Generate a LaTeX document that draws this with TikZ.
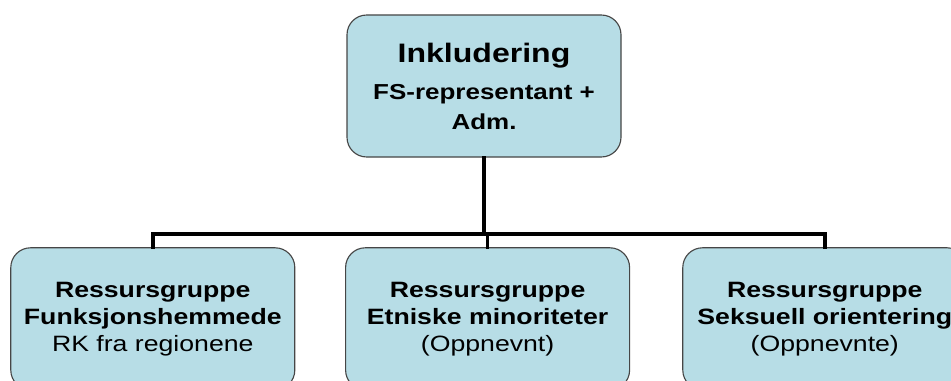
\documentclass[tikz,border=0pt]{standalone}
\usepackage{fontspec}
\setmainfont[FakeStretch=1.2]{Liberation Sans}
\usepackage{tikz}
\usetikzlibrary{positioning}
\definecolor{box-fill}{RGB}{183,221,230}
\definecolor{box-line}{RGB}{70,70,70}
\tikzset{%
    unit/.style={%
        rectangle,
        fill=box-fill,
        draw=box-line, line width=0.8pt,
        rounded corners=14pt,
        text=black,
        align=center,
        inner sep=0pt,
    },
    headunit/.style={%
        unit,
        minimum width=6.85cm,
        minimum height=3.55cm,
        font=\fontsize{15.4}{21.3}\selectfont\bfseries,
    },
    groupunit/.style={%
        unit,
        minimum width=7.1cm,
        minimum height=3.55cm,
        font=\fontsize{15.8}{19.3}\selectfont,
    },
    link/.style={%
        line width=2.6pt,
        line cap=rect,
    },
}

\begin{document}
\begin{tikzpicture}
  \useasboundingbox (0,0) rectangle (23.775,-9.525);
  \clip (0,0) rectangle (23.775,-9.525);

  \node [headunit] at (12.1, -2.15) (incl)
    {{\fontsize{19}{24}\selectfont Inkludering}\\[5pt]FS-representant +\\Adm.};

  \node [groupunit] at (3.82, -7.97) (funk)
    {\textbf{Ressursgruppe}\\\textbf{Funksjonshemmede}\\RK fra regionene};
  \node [groupunit] at (12.19, -7.97) (etn)
    {\textbf{Ressursgruppe}\\\textbf{Etniske minoriteter}\\(Oppnevnt)};
  \node [groupunit] at (20.62, -7.97) (seks)
    {\textbf{Ressursgruppe}\\\textbf{Seksuell orientering}\\(Oppnevnte)};

  \coordinate (bus) at (12.2, -5.85);

  \draw[link] (incl.south) -- (incl.south |- bus);
  \draw[link] (funk.north) -- (funk.north |- bus) -- (seks.north |- bus) -- (seks.north);
  \draw[link] (etn.north) -- (etn.north |- bus);
\end{tikzpicture}
\end{document}
